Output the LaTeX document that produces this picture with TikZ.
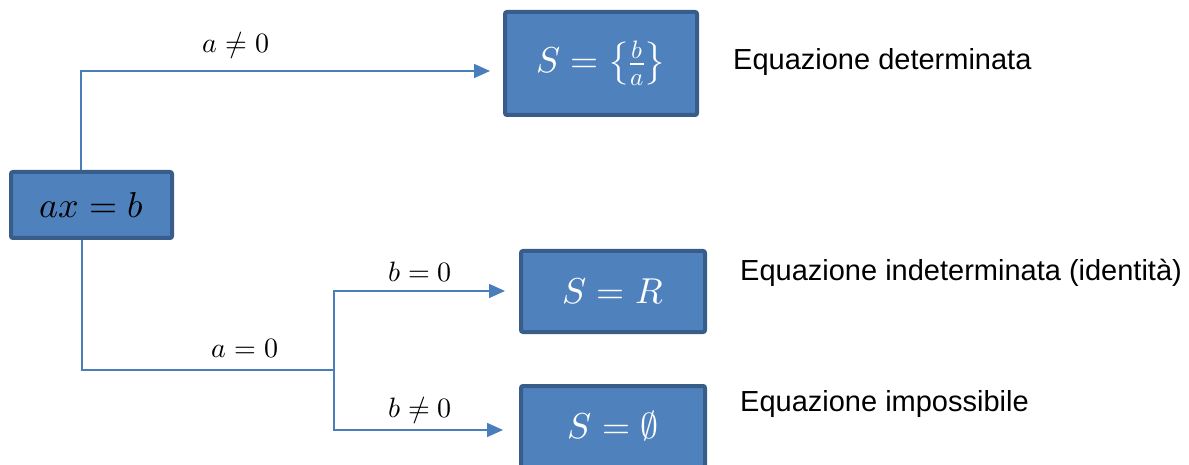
\documentclass[tikz,border=0pt]{standalone}
\usepackage{amsmath}
\usepackage{fontspec}
\usepackage{unicode-math}
\setmathfont{Latin Modern Math}
\newfontfamily\arial{Liberation Sans}
\usetikzlibrary{arrows.meta,calc}
\definecolor{boxfill}{HTML}{4F81BD}
\definecolor{boxline}{HTML}{385D8A}
\definecolor{conncol}{HTML}{4A7EBB}
\tikzset{
  solbox/.style={draw=boxline, line width=4pt, fill=boxfill, rounded corners=2pt,
    text=white, inner sep=0pt, font=\fontsize{36}{40}\selectfont},
  startbox/.style={solbox, text=black},
  conn/.style={draw=conncol, line width=1.6pt},
  arr/.style={conn, -{Triangle[length=16pt,width=14pt]}},
  cond/.style={font=\fontsize{28}{32}\selectfont, inner sep=0pt},
  desc/.style={font=\arial\fontsize{29}{34}\selectfont, anchor=west, inner sep=0pt},
}
\begin{document}
\begin{tikzpicture}[x=1pt,y=-1pt]
\useasboundingbox (0,0) rectangle (1189,465);
\clip (0,0) rectangle (1189,465);
% boxes
\node[startbox, minimum width=161pt, minimum height=66pt] (b1) at (91.5,205) {$ax=b$};
\node[solbox, minimum width=192pt, minimum height=103pt] (b2) at (601,63.5) {$S=\left\{\tfrac{b}{a}\right\}$};
\node[solbox, minimum width=184pt, minimum height=81pt] (b3) at (613,291.5) {$S=R$};
\node[solbox, minimum width=184pt, minimum height=81pt] (b4) at (613,426.5) {$S=\varnothing$};
% junction
\coordinate (j) at (334,370);
% connectors
\draw[arr] ([xshift=-10.5pt]b1.north) |- ([shift={(-13,7.5)}]b2.west);
\draw[conn] ([xshift=-9.5pt]b1.south) |- (j);
\draw[arr] (j) |- ([shift={(-14,-0.5)}]b3.west);
\draw[arr] (j) |- ([shift={(-16,3.5)}]b4.west);
% condition labels
\node[cond] (c1) at (236,46) {$a\neq 0$};
\node[cond] (c2) at (245,348) {$a=0$};
\node[cond] (c3) at (420,272) {$b=0$};
\node[cond] (c4) at (420,410) {$b\neq 0$};
% descriptions
\node[desc] (d1) at (733,62) {Equazione determinata};
\node[desc] (d2) at (740,273) {Equazione indeterminata (identità)};
\node[desc] (d3) at (740,404) {Equazione impossibile};
\end{tikzpicture}
\end{document}
